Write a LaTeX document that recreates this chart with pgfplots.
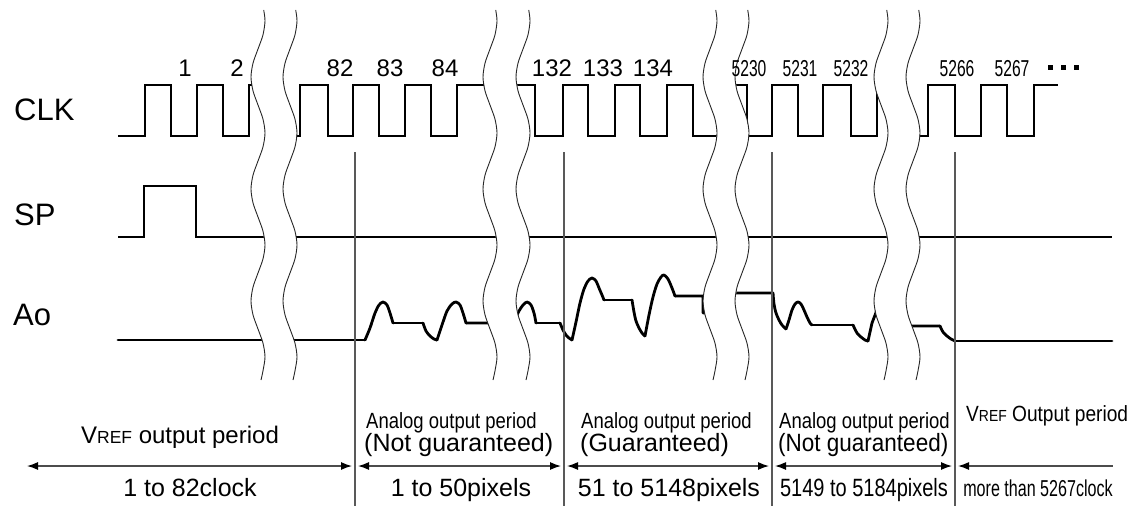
\documentclass[border=0pt]{standalone}
\usepackage{fontspec}
\setmainfont{Liberation Sans}
\usepackage{graphicx}
\usepackage{pgfplots}
\pgfplotsset{compat=1.18}
\usepackage{pgfplotstable}
\usetikzlibrary{arrows.meta}

% break squiggle shape (offset from centre, y in px)
\pgfplotstableread{
dx y
5.7 10
7 21
4.95 35
0 49
-4.95 63
-7 77
-4.95 91
0 105
4.95 119
7 133
4.95 147
0 161
-4.95 175
-7 189
-4.95 203
0 217
4.95 231
7 245
4.95 259
0 273
-4.95 287
-7 301
-4.95 315
0 329
4.95 343
7 357
4.95 371
3 380
}\sq

\pgfplotstableread{
dx y s
5.7 10 0
7 21 0
4.95 35 0
0 49 0
-4.95 63 0
-7 77 0
-4.95 91 0
0 105 0
4.95 119 0
7 133 0
4.95 147 0
0 161 0
-4.95 175 0
-7 189 0
-4.95 203 0
0 217 0
4.95 231 0
7 245 0
4.95 259 0
0 273 0
-4.95 287 0
-7 301 0
-4.95 315 0
0 329 0
4.95 343 0
7 357 0
4.95 371 0
3 380 0
3 380 1
4.95 371 1
7 357 1
4.95 343 1
0 329 1
-4.95 315 1
-7 301 1
-4.95 287 1
0 273 1
4.95 259 1
7 245 1
4.95 231 1
0 217 1
-4.95 203 1
-7 189 1
-4.95 175 1
0 161 1
4.95 147 1
7 133 1
4.95 119 1
0 105 1
-4.95 91 1
-7 77 1
-4.95 63 1
0 49 1
4.95 35 1
7 21 1
5.7 10 1
}\sqfill

\newcommand{\brk}[2]{%
  \addplot[fill=white, draw=none] table[x expr=\thisrow{dx}+#1+#2*\thisrow{s}, y=y] {\sqfill};
  \addplot[smooth, black!85, line width=0.9pt] table[x expr=\thisrow{dx}+#1, y=y] {\sq};
  \addplot[smooth, black!85, line width=0.9pt] table[x expr=\thisrow{dx}+#1+#2, y=y] {\sq};
}
\newcommand{\fs}[1]{\fontsize{#1}{#1}\selectfont}
\newcommand{\vref}[1]{V{\fontsize{#1}{#1}\selectfont REF}}

\begin{document}
\begin{tikzpicture}
\begin{axis}[scale only axis, width=1137pt, height=506pt,
  xmin=0, xmax=1137, ymin=0, ymax=506, y dir=reverse,
  hide axis, clip=false,
  sig/.style={black, line width=2.8pt, line join=miter},
  ao/.style={black, line width=2.8pt, line join=round, line cap=round},
  sep/.style={black!65, line width=1.3pt},
  arr/.style={black!70, line width=1.3pt},
]
\addplot[draw=none] coordinates {(0,0) (1137,506)};

% CLK
\addplot[sig] coordinates {(118,136)(145,136)(145,85)(171,85)(171,136)(197,136)(197,85)(223,85)(223,136)(249,136)(249,85)(272,85)(272,136)(300,136)(300,85)(328,85)(328,136)(353,136)(353,85)(379,85)(379,136)(405,136)(405,85)(431,85)(431,136)(457,136)(457,85)(535,85)(535,136)(563,136)(563,85)(588,85)(588,136)(615,136)(615,85)(640,85)(640,136)(667,136)(667,85)(693,85)(693,136)(725,136)(725,85)(747,85)(747,136)(772,136)(772,85)(798,85)(798,136)(823,136)(823,85)(851,85)(851,136)(877,136)(877,85)(897,85)(897,136)(928,136)(928,85)(955,85)(955,136)(981,136)(981,85)(1007,85)(1007,136)(1034,136)(1034,85)(1058,85)};

% SP
\addplot[sig] coordinates {(118,237)(144,237)(144,186)(196,186)(196,237)(1112,237)};

% Ao
\addplot[ao] coordinates {(118,340)(365,340)};
\addplot[ao, smooth] coordinates {(365,340)(370,328)(375,313)(379,305)(383,302)(387,305)(390,313)(393,323)};
\addplot[ao] coordinates {(393,323)(423,323)};
\addplot[ao, smooth] coordinates {(423,323)(426,331)(430,336)(434,339)(437,340)};
\addplot[ao, smooth] coordinates {(437,340)(442,325)(447,311)(452,304)(456,302)(460,305)(463,313)(466,323)};
\addplot[ao] coordinates {(466,323)(500,323)(510,335)};
\addplot[ao, smooth] coordinates {(510,335)(515,320)(519,311)(523,305)(527,302)(531,305)(534,313)(536,323)};
\addplot[ao] coordinates {(536,323)(560,323)};
\addplot[ao, smooth] coordinates {(560,323)(563,330)(566,335)(569,338)(572,340)};
\addplot[ao, smooth] coordinates {(572,340)(576,322)(580,303)(584,289)(588,281)(592,278)(596,281)(599,288)(602,295)(604,300)};
\addplot[ao] coordinates {(604,300)(632,300)};
\addplot[ao, smooth] coordinates {(632,300)(634,312)(636,321)(639,328)(642,333)(645,336)};
\addplot[ao, smooth] coordinates {(645,336)(649,315)(653,297)(657,284)(661,277)(664,275)(668,279)(672,288)(675,296)};
\addplot[ao] coordinates {(675,296)(703,296)(703,313)(722,313)(728,293)(773,293)};
\addplot[ao, smooth] coordinates {(773,293)(774,304)(776,313)(779,320)(782,325)(786,329)};
\addplot[ao, smooth] coordinates {(786,329)(789,320)(792,310)(795,304)(798,302)(801,304)(804,310)(807,317)(810,323)(812,325)};
\addplot[ao] coordinates {(812,325)(853,325)};
\addplot[ao, smooth] coordinates {(853,325)(857,333)(861,337)(865,340)(868,341)};
\addplot[ao] coordinates {(868,341)(872,323)(880,302)(890,302)(896,326)(940,326)};
\addplot[ao, smooth] coordinates {(940,326)(943,332)(947,336)(951,339)(955,341)};
\addplot[ao] coordinates {(955,341)(1112,341)};

% breaks
\brk{258}{32}
\brk{490}{33}
\brk{710}{32}
\brk{881}{32}

% separators
\addplot[sep] coordinates {(355,152)(355,506)};
\addplot[sep] coordinates {(564,152)(564,506)};
\addplot[sep] coordinates {(772,152)(772,506)};
\addplot[sep] coordinates {(955,152)(955,506)};

% arrows
\addplot[arr, {Latex[length=11pt,width=8pt,black]}-{Latex[length=11pt,width=8pt,black]}] coordinates {(27,466)(352,466)};
\addplot[arr, {Latex[length=11pt,width=8pt,black]}-{Latex[length=11pt,width=8pt,black]}] coordinates {(358,466)(561,466)};
\addplot[arr, {Latex[length=11pt,width=8pt,black]}-{Latex[length=11pt,width=8pt,black]}] coordinates {(567,466)(769,466)};
\addplot[arr, {Latex[length=11pt,width=8pt,black]}-{Latex[length=11pt,width=8pt,black]}] coordinates {(775,466)(952,466)};
\addplot[arr, {Latex[length=11pt,width=8pt,black]}-] coordinates {(958,466)(1113,466)};

% dots
\addplot[only marks, mark=square*, mark size=2pt, black] coordinates {(1050,67)(1063,67)(1076,67)};

% signal names
\node[anchor=base west, inner sep=0] at (axis cs:14,120) {\fs{31}CLK};
\node[anchor=base west, inner sep=0] at (axis cs:14,225) {\fs{31}SP};
\node[anchor=base west, inner sep=0] at (axis cs:13,325) {\fs{31}Ao};

% clock numbers
\foreach \x/\t in {185/1, 237/2, 340/82, 390/83, 445/84, 552/132, 603/133, 653/134} {
  \edef\tmp{\noexpand\node[anchor=base, inner sep=0] at (axis cs:\x,76) {\noexpand\fs{24}\t};}
  \tmp
}
\foreach \x/\t in {749/5230, 800/5231, 851/5232, 957/5266, 1012/5267} {
  \edef\tmp{\noexpand\node[anchor=base, inner sep=0] at (axis cs:\x,76) {\noexpand\scalebox{0.68}[1]{\noexpand\fs{23}\t}};}
  \tmp
}

% period texts
\node[anchor=base, inner sep=0] at (axis cs:180,443) {\fs{24}\vref{17.5} output period};
\node[anchor=base west, inner sep=0] at (axis cs:366,428) {\scalebox{0.84}[1]{\fs{22}Analog output period}};
\node[anchor=base west, inner sep=0] at (axis cs:364,451) {\fs{25}(Not guaranteed)};
\node[anchor=base west, inner sep=0] at (axis cs:581,428) {\scalebox{0.84}[1]{\fs{22}Analog output period}};
\node[anchor=base west, inner sep=0] at (axis cs:580,451) {\fs{25}(Guaranteed)};
\node[anchor=base west, inner sep=0] at (axis cs:779,428) {\scalebox{0.84}[1]{\fs{22}Analog output period}};
\node[anchor=base west, inner sep=0] at (axis cs:778,451) {\scalebox{0.9}[1]{\fs{25}(Not guaranteed)}};
\node[anchor=base west, inner sep=0] at (axis cs:966,421) {\scalebox{0.87}[1]{\fs{22}\vref{16} Output period}};

% bottom labels
\node[anchor=base, inner sep=0] at (axis cs:190,496) {\fs{25}1 to 82clock};
\node[anchor=base, inner sep=0] at (axis cs:461,496) {\fs{25}1 to 50pixels};
\node[anchor=base, inner sep=0] at (axis cs:669,496) {\fs{25}51 to 5148pixels};
\node[anchor=base, inner sep=0] at (axis cs:864,496) {\scalebox{0.8}[1]{\fs{25}5149 to 5184pixels}};
\node[anchor=base, inner sep=0] at (axis cs:1038,496) {\scalebox{0.7}[1]{\fs{23}more than 5267clock}};
\end{axis}
\end{tikzpicture}
\end{document}
